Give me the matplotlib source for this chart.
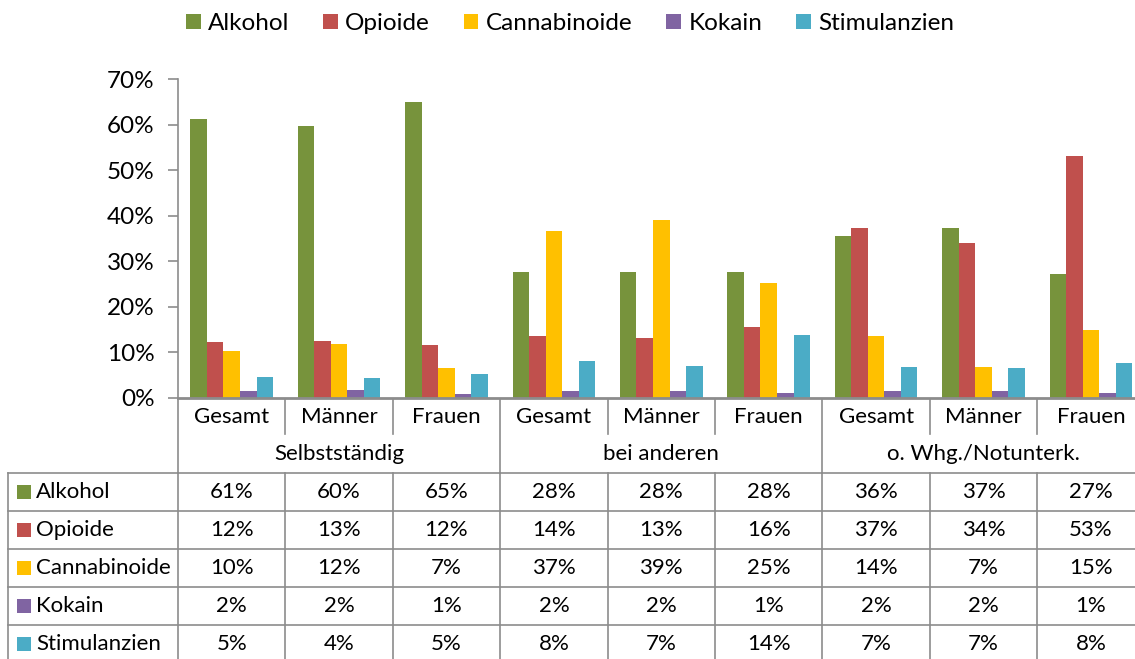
import matplotlib.pyplot as plt
from matplotlib.patches import Rectangle

plt.rcParams['font.family'] = ['Lato', 'DejaVu Sans']

# ---- data ----
groups = ["Selbstständig", "bei anderen", "o. Whg./Notunterk."]
subcats = ["Gesamt", "Männer", "Frauen"]
series = ["Alkohol", "Opioide", "Cannabinoide", "Kokain", "Stimulanzien"]
colors = ["#77933C", "#C0504D", "#FFC000", "#8064A2", "#4BACC6"]

alkohol = [61.2, 59.7, 64.9, 27.6, 27.6, 27.6, 35.6, 37.2, 27.2]
opioide = [12.2, 12.6, 11.7, 13.6, 13.1, 15.6, 37.3, 34.0, 53.0]
cannabinoide = [10.3, 11.8, 6.6, 36.7, 39.1, 25.2, 13.6, 6.8, 14.9]
kokain = [1.6, 1.7, 0.8, 1.6, 1.6, 1.0, 1.6, 1.6, 1.0]
stimulanzien = [4.6, 4.4, 5.2, 8.1, 7.0, 13.8, 6.8, 6.6, 7.6]
values = [alkohol, opioide, cannabinoide, kokain, stimulanzien]

W, H = 1135, 659
fig = plt.figure(figsize=(W / 100, H / 100), dpi=100)
grey = "#8c8c8c"
fs = 16
unit = 107.4  # pixels per category

# ---- bar chart (right part is cut off by the figure edge, as in the original) ----
n = len(alkohol)
ax = fig.add_axes([178 / W, 1 - 398 / H, n * unit / W, (398 - 79) / H])
bw = 0.154
for i, (name, vals) in enumerate(zip(series, values)):
    xs = [k + (i - 2) * bw for k in range(n)]
    ax.bar(xs, vals, width=bw, color=colors[i], label=name, linewidth=0)

ax.set_xlim(-0.5, n - 0.5)
ax.set_ylim(0, 70)
ax.set_yticks(range(0, 71, 10))
ax.set_yticklabels([f"{t}%" for t in range(0, 71, 10)], fontsize=17.5)
ax.set_xticks([])
for s in ["top", "right"]:
    ax.spines[s].set_visible(False)
ax.spines["left"].set_color(grey)
ax.spines["left"].set_linewidth(1.2)
ax.spines["bottom"].set_color(grey)
ax.spines["bottom"].set_linewidth(2)
ax.tick_params(axis="y", direction="out", length=7, width=1.2, color=grey, pad=10)

fig.legend(loc="upper center", bbox_to_anchor=(570 / W, 1.013), ncol=5, frameon=False,
           fontsize=17.5, handlelength=0.6, handleheight=0.6, handletextpad=0.3,
           columnspacing=1.4)

# ---- data table below ----
tab = fig.add_axes([0, 0, 1, 1], zorder=-1)
tab.set_xlim(-0.5 - 178 / unit, -0.5 + (W - 178) / unit)
tab.set_ylim(H, 0)
tab.axis("off")
lw = 1.2

x_left = -0.5 - 170 / unit   # left border of label column
y_hdr1, y_hdr2, y_data = 398, 436, 473
row_h = 38

# header: sub categories and groups
for k in range(n):
    tab.text(k, (y_hdr1 + y_hdr2) / 2, subcats[k % 3], ha="center", va="center", fontsize=fs)
for g, gname in enumerate(groups):
    tab.text(3 * g + 1, (y_hdr2 + y_data) / 2, gname, ha="center", va="center", fontsize=fs)
for k in range(n + 1):
    x = k - 0.5
    bottom = y_hdr2 - 2 if k % 3 else y_data
    tab.plot([x, x], [y_hdr1, bottom], color=grey, lw=lw)
    tab.plot([x, x], [y_data, H + 5], color=grey, lw=lw)
tab.plot([x_left, x_left], [y_data, H + 5], color=grey, lw=lw)

# data rows
for r, (name, vals) in enumerate(zip(series, values)):
    y0 = y_data + r * row_h
    tab.plot([x_left, n - 0.5], [y0, y0], color=grey, lw=lw)
    yc = y0 + row_h / 2
    tab.add_patch(Rectangle((x_left + 9 / unit, yc - 7), 14 / unit, 14,
                            color=colors[r], lw=0))
    tab.text(x_left + 28 / unit, yc, name, ha="left", va="center", fontsize=fs)
    for k, v in enumerate(vals):
        tab.text(k, yc, f"{v:.0f}%", ha="center", va="center", fontsize=fs)

fig.savefig("out.png", dpi=100)
